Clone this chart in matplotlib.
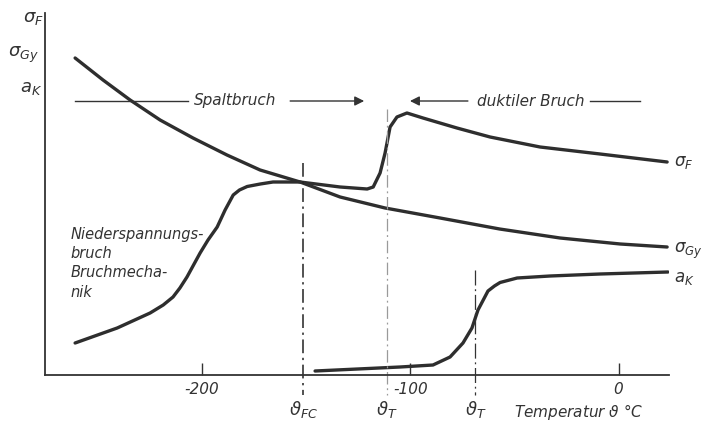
import matplotlib
matplotlib.use("Agg")
import matplotlib.pyplot as plt

plt.rcParams['font.family'] = ['DejaVu Sans']
plt.rcParams['mathtext.fontset'] = 'dejavusans'

# --- data (temperature in °C, ordinate in arbitrary units) ---
sigma_gy_T = [-260.9, -247.5, -234.5, -220.1, -204.3, -188.0, -172.1, -152.9, -133.7, -112.1,
              -85.7, -57.1, -28.1, 0.8, 23.3]
sigma_gy_y = [317, 295, 275, 255, 237, 220, 205, 193, 178, 167,
              157, 146, 137, 131, 128]

sigma_f_T = [-260.9, -240.7, -224.9, -218.6, -213.9, -210.6, -207.2, -200.9, -197.1, -192.7, -188.9,
             -185.0, -182.0, -178.3, -172.0, -165.9, -152.9, -133.7, -120.7, -117.8, -114.5, -112.1,
             -109.7, -106.4, -101.6, -93.9, -77.6, -61.7, -37.7, -8.9, 23.3]
sigma_f_y = [32, 47, 62, 70, 78, 87, 98, 122, 135, 148, 165,
             180, 185, 188.5, 191, 193, 193, 188, 186, 188, 202, 222,
             248, 258, 262, 257, 247, 238, 228, 221, 213]

a_k_T = [-145.7, -104.9, -89.1, -80.9, -74.7, -70.4, -67.5, -62.7, -59.6, -56.9, -48.7, -32.9, -8.9, 23.7]
a_k_y = [4, 8, 10, 18, 32, 47, 65, 84, 89, 92.5, 97, 99, 101, 103]

xticks = [-200, -100, 0]
xtick_labels = ['-200', '-100', '0']

T_FC = -151.4
T_T1 = -111.4
T_T2 = -68.7

curve_color = '#2e2e2e'
text_color = '#333333'

fig = plt.figure(figsize=(7.11, 4.22), dpi=100)
ax = fig.add_axes([44.7 / 711, 47 / 422, (669 - 44.7) / 711, 362 / 422])
ax.set_xlim(-275.5, 24.2)
ax.set_ylim(0, 362)

for s in ['top', 'right']:
    ax.spines[s].set_visible(False)
for s in ['left', 'bottom']:
    ax.spines[s].set_linewidth(1.3)
    ax.spines[s].set_color(text_color)

ax.set_yticks([])
ax.set_xticks(xticks)
ax.set_xticklabels(xtick_labels, fontsize=11, style='italic', color=text_color)
ax.tick_params(axis='x', direction='in', length=9, width=1.0, pad=5, colors=text_color)

kw = dict(color=curve_color, lw=2.4, solid_capstyle='round', solid_joinstyle='round')
ax.plot(sigma_gy_T, sigma_gy_y, **kw)
ax.plot(sigma_f_T, sigma_f_y, **kw)
ax.plot(a_k_T, a_k_y, **kw)

# vertical marker lines (extend below the axis)
ax.plot([T_FC, T_FC], [212, -20], color='#222222', lw=1.1, ls=(0, (9, 3, 1.5, 3)), clip_on=False)
ax.plot([T_T1, T_T1], [266, -20], color='#9a9a9a', lw=0.9, ls=(0, (10, 3, 1.5, 3)), clip_on=False)
ax.plot([T_T2, T_T2], [105, -20], color='#333333', lw=0.9, ls=(0, (12, 3, 1.5, 3)), clip_on=False)

# horizontal regime arrows
yh = 274
ax.plot([-260.8, -206.5], [yh, yh], color=text_color, lw=1.0)
ax.text(-184.0, yh, 'Spaltbruch', ha='center', va='center', fontsize=11, style='italic', color=text_color)
ax.annotate('', xy=(-120.8, yh), xytext=(-159.0, yh),
            arrowprops=dict(arrowstyle='-|>', color=text_color, lw=1.0, mutation_scale=14))
ax.annotate('', xy=(-101.5, yh), xytext=(-71.0, yh),
            arrowprops=dict(arrowstyle='-|>', color=text_color, lw=1.0, mutation_scale=14))
ax.text(-42.4, yh, 'duktiler Bruch', ha='center', va='center', fontsize=11, style='italic', color=text_color)
ax.plot([-13.6, 10.4], [yh, yh], color=text_color, lw=1.0)

# left annotation
ax.text(-263, 148, 'Niederspannungs-\nbruch\nBruchmecha-\nnik', ha='left', va='top',
        fontsize=10.5, style='italic', color=text_color, linespacing=1.35)

# curve end labels
ax.text(26.5, 213, r'$\sigma_F$', ha='left', va='center', fontsize=12, color=text_color, clip_on=False)
ax.text(26.5, 124, r'$\sigma_{Gy}$', ha='left', va='center', fontsize=12, color=text_color, clip_on=False)
ax.text(26.5, 97, r'$a_K$', ha='left', va='center', fontsize=12, color=text_color, clip_on=False)

# y-axis labels (top-left)
fig.text(23 / 711, 1 - 18 / 422, r'$\sigma_F$', ha='left', va='center', fontsize=13, color=text_color)
fig.text(8 / 711, 1 - 55 / 422, r'$\sigma_{Gy}$', ha='left', va='center', fontsize=13, color=text_color)
fig.text(20 / 711, 1 - 88 / 422, r'$a_K$', ha='left', va='center', fontsize=13, color=text_color)

# temperature labels under the axis
ax.text(T_FC, -35, r'$\vartheta_{FC}$', ha='center', va='center', fontsize=13, color=text_color, clip_on=False)
ax.text(T_T1, -35, r'$\vartheta_{T}$', ha='center', va='center', fontsize=13, color=text_color, clip_on=False)
ax.text(T_T2, -35, r'$\vartheta_{T}$', ha='center', va='center', fontsize=13, color=text_color, clip_on=False)
ax.text(-19, -37, r'Temperatur $\vartheta$ °C', ha='center', va='center', fontsize=11, style='italic',
        color=text_color, clip_on=False)

fig.savefig('out.png', dpi=100)
